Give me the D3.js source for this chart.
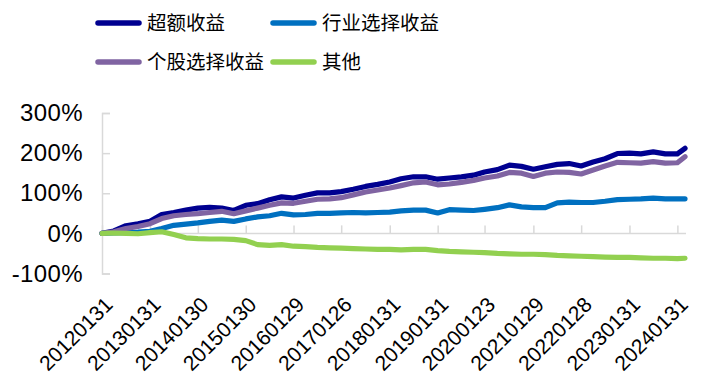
<!DOCTYPE html>
<html><head><meta charset="utf-8">
<script src="https://cdn.jsdelivr.net/npm/d3@7"></script>
<style>
html,body{margin:0;padding:0;background:#fff;}
svg{display:block;}
</style></head>
<body>
<svg id="chart" width="702" height="381"></svg>
<script>
const seriesNames = ["超额收益", "行业选择收益", "个股选择收益", "其他"];
const seriesColors = ["#000090", "#0070C0", "#8064A2", "#92D050"];

const dates = ["2012-01-31","2012-04-30","2012-07-31","2012-10-31",
"2013-01-31","2013-04-30","2013-07-31","2013-10-31",
"2014-01-30","2014-04-30","2014-07-31","2014-10-31",
"2015-01-30","2015-04-30","2015-07-31","2015-10-30",
"2016-01-29","2016-04-29","2016-07-29","2016-10-31",
"2017-01-26","2017-04-28","2017-07-31","2017-10-31",
"2018-01-31","2018-04-27","2018-07-31","2018-10-31",
"2019-01-31","2019-04-30","2019-07-31","2019-10-31",
"2020-01-23","2020-04-30","2020-07-31","2020-10-30",
"2021-01-29","2021-04-30","2021-07-30","2021-10-29",
"2022-01-28","2022-04-29","2022-07-29","2022-10-31",
"2023-01-31","2023-04-28","2023-07-31","2023-10-31",
"2024-01-31","2024-03-29"];

const excess = [0,6,19,24,30,47,52,58,63,65,63,57,70,74,84,91,88,95,101,101,104,110,117,122,128,136,141,141,135,138,141,145,153,159,170,167,160,166,172,174,168,178,186,199,200,198,203,198,198,212];
const industry = [0,1,2,3,5,12,20,23,26,30,33,30,36,41,44,50,46,47,50,50,51,52,51,52,53,56,58,58,51,59,58,57,60,64,71,66,64,64,76,78,77,77,80,84,85,86,88,86,86,86];
const stock = [0,4,12,17,24,37,44,47,49,52,55,49,56,63,70,76,75,80,85,86,89,96,103,108,113,119,126,128,121,123,127,132,138,143,152,150,142,150,153,152,148,158,168,177,176,175,179,175,176,191];
const other = [0,1,0,-1,2,4,-3,-11,-13,-14,-14,-15,-18,-28,-30,-28,-32,-33,-35,-36,-37,-38,-39,-40,-40,-41,-40,-40,-43,-45,-46,-47,-48,-50,-51,-52,-52,-53,-55,-56,-57,-58,-59,-60,-60,-61,-62,-62,-63,-62];

const tickLabels = ["20120131","20130131","20140130","20150130","20160129","20170126","20180131","20190131","20200123","20210129","20220128","20230131","20240131"];
const yTicks = [-100, 0, 100, 200, 300];

const svg = d3.select("#chart");
const parse = d3.timeParse("%Y-%m-%d");
const parseTick = d3.timeParse("%Y%m%d");
const dts = dates.map(parse);

const x = d3.scaleTime().domain([dts[0], dts[dts.length-1]]).range([102, 685]);
const y = d3.scaleLinear().domain([-100, 300]).range([273.5, 113]);

const axisColor = "#d9d9d9";

// Y axis
const yAxis = d3.axisLeft(y).tickValues(yTicks).tickSize(-8).tickPadding(19).tickFormat(d => d + "%");
const yg = svg.append("g").attr("transform", "translate(102,0)").call(yAxis);
yg.select(".domain").attr("stroke", axisColor).attr("stroke-width", 1.5);
yg.selectAll(".tick line").attr("stroke", axisColor).attr("stroke-width", 1.5);
yg.selectAll(".tick text").attr("font-family", "'Liberation Sans', Arial, sans-serif").attr("font-size", 24)
  .attr("letter-spacing", 0.4).attr("fill", "#000");

// X axis at 0
const xAxis = d3.axisTop(x).tickValues(tickLabels.map(parseTick)).tickSize(8).tickFormat("");
const xg = svg.append("g").attr("transform", `translate(0,${y(0)})`).call(xAxis);
xg.select(".domain").attr("stroke", axisColor).attr("stroke-width", 1.5).attr("d", `M102,0H686`);
xg.selectAll(".tick line").attr("stroke", axisColor).attr("stroke-width", 1.5);

// X labels (rotated, at bottom)
svg.append("g").selectAll("text").data(tickLabels).join("text")
  .attr("transform", d => `translate(${x(parseTick(d)) + 12},${306}) rotate(-45)`)
  .attr("text-anchor", "end")
  .attr("font-family", "'Liberation Sans', Arial, sans-serif")
  .attr("font-size", 21)
  .attr("fill", "#000")
  .text(d => d);

// Lines
const data = [excess, industry, stock, other];
const line = d3.line().x((d, i) => x(dts[i])).y(d => y(d)).curve(d3.curveLinear);
[0, 1, 2, 3].forEach(k => {
  svg.append("path").datum(data[k])
    .attr("fill", "none")
    .attr("stroke", seriesColors[k])
    .attr("stroke-width", 5.2)
    .attr("stroke-linejoin", "round")
    .attr("stroke-linecap", "round")
    .attr("d", line);
});

// Legend
const legendPos = [[98, 23], [273, 23], [98, 62], [273, 62]];
seriesNames.forEach((name, k) => {
  const [lx, ly] = legendPos[k];
  const g = svg.append("g");
  g.append("line").attr("x1", lx).attr("x2", lx + 41).attr("y1", ly).attr("y2", ly)
    .attr("stroke", seriesColors[k]).attr("stroke-width", 5.5).attr("stroke-linecap", "round");
  g.append("text").attr("x", lx + 49).attr("y", ly).attr("dy", "0.36em")
    .attr("font-family", "'Noto Sans CJK SC', sans-serif").attr("font-size", 19.5)
    .attr("fill", "#000").text(name);
});
</script>
</body></html>
